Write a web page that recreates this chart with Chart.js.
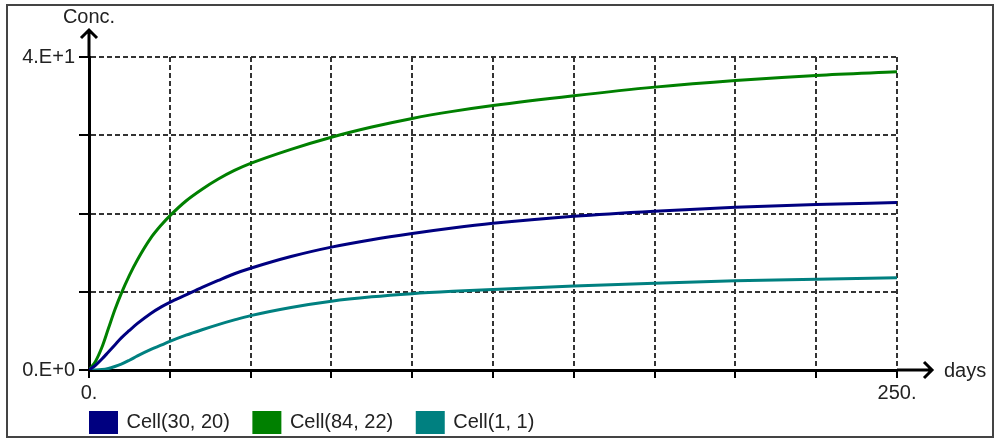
<!DOCTYPE html>
<html>
<head>
<meta charset="utf-8">
<script src="https://cdn.jsdelivr.net/npm/chart.js@4.4.1/dist/chart.umd.min.js"></script>
<style>
  html, body { margin: 0; padding: 0; background: #fff; }
  canvas { display: block; }
</style>
</head>
<body>
<canvas id="concChart" width="995" height="441"></canvas>
<script>
// values
const days = [0, 2, 4, 6, 8, 10, 12.5, 15, 19, 22.5, 25, 30, 35, 40, 45, 50, 62.5, 75, 87.5, 100, 112.5, 125, 150, 175, 200, 225, 250];
const cell30_20 = [0, 0.6, 1.4, 2.3, 3.2, 4.1, 5.05, 5.95, 7.2, 8.1, 8.65, 9.6, 10.55, 11.45, 12.3, 13.0, 14.5, 15.7, 16.65, 17.45, 18.15, 18.75, 19.65, 20.3, 20.8, 21.15, 21.4];
const cell84_22 = [0, 1.1, 2.9, 5.3, 7.7, 9.8, 12.1, 14.1, 16.8, 18.6, 19.7, 21.6, 23.1, 24.4, 25.5, 26.4, 28.2, 29.75, 31.05, 32.15, 33.05, 33.8, 35.05, 36.15, 37.0, 37.65, 38.1];
const cell1_1 = [0, 0, 0.05, 0.2, 0.45, 0.75, 1.25, 1.8, 2.6, 3.2, 3.65, 4.45, 5.15, 5.8, 6.4, 6.95, 8.0, 8.8, 9.35, 9.75, 10.05, 10.3, 10.75, 11.1, 11.4, 11.6, 11.8];

const seriesNames = ["Cell(30, 20)", "Cell(84, 22)", "Cell(1, 1)"];
const seriesColors = ["#000080", "#008000", "#008080"];
const yTickLabels = { 0: "0.E+0", 40: "4.E+1" };
const xTickLabels = { 0: "0.", 250: "250." };

const FONT = "'Liberation Sans', Arial, sans-serif";

function toPoints(values) {
  return days.map((d, i) => ({ x: d, y: values[i] }));
}

// frame round the picture, axis arrows and axis names
const decorations = {
  id: "decorations",
  beforeDraw(chart) {
    const ctx = chart.ctx;
    ctx.save();
    ctx.fillStyle = "#fff";
    ctx.fillRect(0, 0, chart.width, chart.height);
    ctx.strokeStyle = "#444";
    ctx.lineWidth = 2;
    ctx.strokeRect(7, 5, 986, 432);
    ctx.restore();
  },
  afterLayout(chart) {
    // legend sits under the plot, starting at the y axis
    chart.legend.left = 66.5;
    chart.legend.top = 388.5;
  },
  afterDraw(chart) {
    const { ctx, chartArea: a } = chart;
    ctx.save();
    ctx.strokeStyle = "#000";
    ctx.lineWidth = 3;
    ctx.beginPath();
    ctx.moveTo(a.left, a.top);
    ctx.lineTo(a.left, 30);
    ctx.moveTo(a.left - 8, 38);
    ctx.lineTo(a.left, 30);
    ctx.lineTo(a.left + 8, 38);
    ctx.moveTo(a.right, a.bottom);
    ctx.lineTo(932, a.bottom);
    ctx.moveTo(924, a.bottom - 8);
    ctx.lineTo(932, a.bottom);
    ctx.lineTo(924, a.bottom + 8);
    ctx.stroke();

    ctx.fillStyle = "#222";
    ctx.font = "20px " + FONT;
    ctx.textBaseline = "middle";
    ctx.textAlign = "center";
    ctx.fillText("Conc.", a.left, 17);
    ctx.textAlign = "left";
    ctx.fillText("days", 944, a.bottom + 1);
    ctx.restore();
  }
};

const chart = new Chart(document.getElementById("concChart"), {
  type: "line",
  data: {
    datasets: [cell30_20, cell84_22, cell1_1].map((vals, i) => ({
      label: seriesNames[i],
      data: toPoints(vals),
      borderColor: seriesColors[i],
      backgroundColor: seriesColors[i],
      borderWidth: 3,
      pointRadius: 0,
      fill: false,
      cubicInterpolationMode: "monotone",
    })),
  },
  options: {
    responsive: false,
    animation: false,
    devicePixelRatio: 1,
    layout: { padding: { left: 0, right: 98, top: 57, bottom: 0 } },
    plugins: {
      tooltip: { enabled: false },
      legend: {
        position: "bottom",
        align: "start",
        maxHeight: 39,
        labels: {
          boxWidth: 26,
          boxHeight: 20,
          padding: 24,
          color: "#222",
          font: { family: FONT, size: 20 },
        },
      },
    },
    scales: {
      x: {
        type: "linear",
        min: 0,
        max: 250,
        afterFit(scale) { scale.height = 32; },
        grid: { color: "#333", lineWidth: 2, tickLength: 8, tickColor: "#000", tickWidth: 2 },
        border: { display: true, color: "#000", width: 3, dash: [5, 3] },
        ticks: {
          stepSize: 25,
          autoSkip: false,
          maxRotation: 0,
          padding: 3,
          color: "#222",
          font: { family: FONT, size: 20 },
          callback: (v) => xTickLabels[v] || "",
        },
      },
      y: {
        min: 0,
        max: 40,
        afterFit(scale) { scale.width = 89; },
        grid: { color: "#333", lineWidth: 2, tickLength: 10, tickColor: "#000", tickWidth: 2 },
        border: { display: true, color: "#000", width: 3, dash: [5, 3] },
        ticks: {
          stepSize: 10,
          autoSkip: false,
          padding: 4,
          color: "#222",
          font: { family: FONT, size: 20 },
          callback: (v) => yTickLabels[v] || "",
        },
      },
    },
  },
  plugins: [decorations],
});
</script>
</body>
</html>
